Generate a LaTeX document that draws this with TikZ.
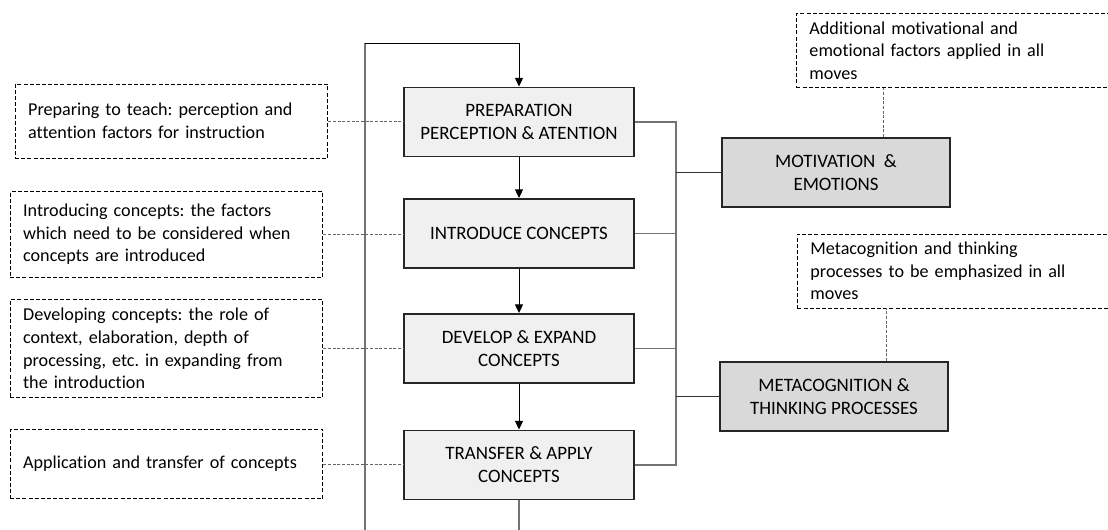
\documentclass[tikz,border=0pt]{standalone}
\usepackage{fontspec}
\setmainfont{Carlito}[Ligatures={NoCommon,NoContextual}]
\usetikzlibrary{arrows.meta}
\definecolor{boxfill}{HTML}{F0F0F0}
\definecolor{sidefill}{HTML}{D9D9D9}
\definecolor{boxline}{HTML}{262626}
\frenchspacing

\begin{document}
\begin{tikzpicture}[x=0.75pt, y=-0.75pt,
    every node/.style={font=\fontsize{13.6}{16.9}\selectfont, text=black},
    movebox/.style={draw=boxline, line width=1.2pt, fill=boxfill, minimum width=172.5pt, minimum height=52pt, align=center, font=\fontsize{14.2}{17.3}\selectfont},
    sidebox/.style={draw=boxline, line width=1.2pt, fill=sidefill, minimum width=171pt, minimum height=52pt, align=center, font=\fontsize{14.2}{17.3}\selectfont},
    notebox/.style={draw=black, line width=0.7pt, dash pattern=on 3pt off 1.6pt, text width=215pt, inner xsep=9.75pt, align=left},
    sidenote/.style={notebox, text width=232pt, anchor=west},
    noteline/.style={draw=black!60, line width=0.6pt, dash pattern=on 2.2pt off 1.3pt},
    bracket/.style={draw=black!55, line width=0.8pt},
    flow/.style={draw=black, line width=0.75pt, -{Triangle[width=6pt,length=6.5pt]}}]
  \clip (0,0) rectangle (1108,529);

  \node[movebox] (prep) at (519,122) {PREPARATION\\PERCEPTION \& ATENTION};
  \node[movebox] (intro) at (519,233.5) {INTRODUCE CONCEPTS};
  \node[movebox] (develop) at (519,348.5) {DEVELOP \& EXPAND\\CONCEPTS};
  \node[movebox] (transfer) at (519,465) {TRANSFER \& APPLY\\CONCEPTS};

  \node[sidebox] (motiv) at (836,172.5) {MOTIVATION~~\&\\EMOTIONS};
  \node[sidebox] (meta) at (834,396.5) {METACOGNITION \&\\THINKING PROCESSES};

  \node[notebox, minimum height=55.5pt] (prepnote) at (171.5,121) {Preparing to teach: perception and\\attention factors for instruction};
  \node[notebox, minimum height=64pt] (intronote) at (166.5,234.5) {Introducing concepts: the factors\\which need to be considered when\\concepts are introduced};
  \node[notebox, minimum height=73pt] (developnote) at (166.5,348.5) {Developing concepts: the role of\\context, elaboration, depth of\\processing, etc. in expanding from\\the introduction};
  \node[notebox, minimum height=52pt] (transfernote) at (166.5,464) {Application and transfer of concepts};

  \node[sidenote, minimum height=55pt] (motivnote) at (796,50.5) {Additional motivational and\\emotional factors applied in all\\moves};
  \node[sidenote, minimum height=55.5pt] (metanote) at (797,271) {Metacognition and thinking\\processes to be emphasized in all\\moves};

  \draw[flow] (prep) -- (intro);
  \draw[flow] (intro) -- (develop);
  \draw[flow] (develop) -- (transfer);
  \draw[bracket] (transfer.south) -- ++(0,60) -| (365,43) coordinate (looptop);
  \draw[flow] (looptop) -| (prep.north);

  \draw[bracket] (prep.east) -| (676,0 |- transfer.east) coordinate (bracketbot) -- (transfer.east);
  \draw[bracket] (intro.east) -- (intro.east -| bracketbot);
  \draw[bracket] (develop.east) -- (develop.east -| bracketbot);
  \draw[draw=black!80, line width=0.75pt] (motiv.west -| bracketbot) -- (motiv.west);
  \draw[draw=black!80, line width=0.75pt] (meta.west -| bracketbot) -- (meta.west);

  \foreach \m in {prep, intro, develop, transfer}
    \draw[noteline] (\m note.east) -- (\m note.east -| \m.west);

  \draw[noteline] (motiv.north) ++(47,0) coordinate (m1) -- (m1 |- motivnote.south);
  \draw[noteline] (meta.north) ++(52,0) coordinate (m2) -- (m2 |- metanote.south);
\end{tikzpicture}
\end{document}
